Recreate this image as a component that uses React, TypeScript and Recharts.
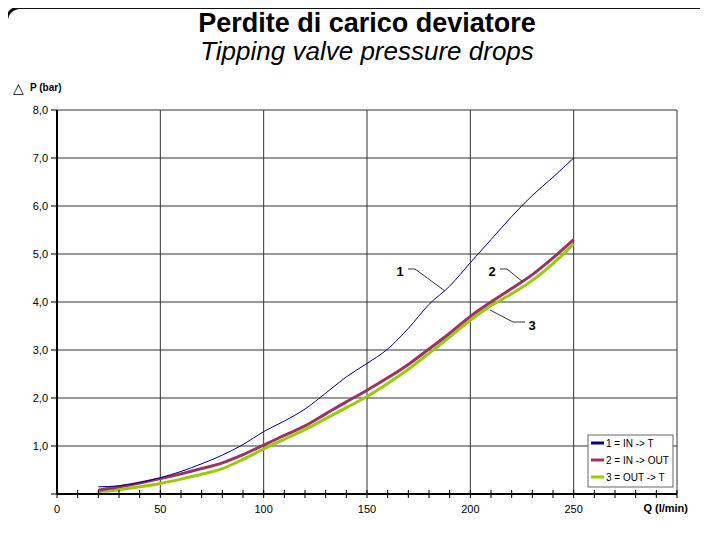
import { CartesianGrid, Line, LineChart, XAxis, YAxis } from 'recharts';

// portata (l/min)
const flowRates = [20, 30, 40, 50, 60, 70, 80, 90, 100, 110, 120, 130, 140, 150, 160, 170, 180, 190, 200, 210, 220, 230, 240, 250];
// 1 = IN -> T
const inToT = [0.15, 0.17, 0.24, 0.34, 0.47, 0.63, 0.81, 1.03, 1.3, 1.52, 1.77, 2.1, 2.44, 2.72, 3.02, 3.45, 3.95, 4.33, 4.82, 5.3, 5.78, 6.22, 6.6, 7.0];
// 2 = IN -> OUT
const inToOut = [0.08, 0.15, 0.23, 0.32, 0.42, 0.53, 0.65, 0.82, 1.02, 1.22, 1.42, 1.67, 1.92, 2.16, 2.42, 2.7, 3.02, 3.35, 3.7, 4.0, 4.28, 4.57, 4.92, 5.3];
// 3 = OUT -> T
const outToT = [0.05, 0.09, 0.15, 0.22, 0.31, 0.41, 0.53, 0.72, 0.94, 1.14, 1.34, 1.57, 1.8, 2.03, 2.3, 2.6, 2.93, 3.27, 3.62, 3.92, 4.17, 4.45, 4.8, 5.21];

const xTicks = [0, 10, 20, 30, 40, 50, 60, 70, 80, 90, 100, 110, 120, 130, 140, 150, 160, 170, 180, 190, 200, 210, 220, 230, 240, 250, 260, 270, 280, 290, 300];
const xGrid = [50, 100, 150, 200, 250, 300];
const yTicks = [0, 1, 2, 3, 4, 5, 6, 7, 8];
const yGrid = [1, 2, 3, 4, 5, 6, 7, 8];

const legendItems = [
  { label: '1 = IN -> T', color: '#000080' },
  { label: '2 = IN -> OUT', color: '#993366' },
  { label: '3 = OUT -> T', color: '#99cc00' },
];

const data = flowRates.map((q, i) => ({ q, s1: inToT[i], s2: inToOut[i], s3: outToT[i] }));

const FONT = '"Liberation Sans", Arial, sans-serif';

function XTick({ x, y, payload }: any) {
  const v = payload.value;
  return (
    <g>
      <line x1={x} x2={x} y1={y - 4} y2={y + 4} stroke="#000" strokeWidth={1} />
      {v % 50 === 0 && v < 300 && (
        <text x={x} y={y + 19} textAnchor="middle" fontSize={11} fill="#000" fontFamily={FONT}>
          {v}
        </text>
      )}
      {v === 300 && (
        <text x={x + 11} y={y + 18} textAnchor="end" fontSize={11} fontWeight="bold" fill="#000" fontFamily={FONT}>
          Q (l/min)
        </text>
      )}
    </g>
  );
}

export default function App() {
  return (
    <div style={{ position: 'relative', width: 708, height: 536, margin: -8, background: '#fff', fontFamily: FONT }}>
      <div style={{ position: 'absolute', left: 0, top: 0 }}>
        <LineChart width={708} height={536} data={data} margin={{ top: 110, right: 31, left: 0, bottom: 12 }}>
          <CartesianGrid
            stroke="#333"
            strokeWidth={1}
            verticalValues={xGrid}
            horizontalValues={yGrid}
          />
          <XAxis
            dataKey="q"
            type="number"
            domain={[0, 300]}
            ticks={xTicks}
            interval={0}
            height={30}
            tickSize={0}
            tickMargin={0}
            tickLine={false}
            axisLine={{ stroke: '#000', strokeWidth: 2 }}
            tick={<XTick />}
          />
          <YAxis
            type="number"
            domain={[0, 8]}
            ticks={yTicks}
            interval={0}
            width={57}
            tickSize={6}
            tickMargin={3}
            tickLine={{ stroke: '#000' }}
            axisLine={{ stroke: '#000', strokeWidth: 2 }}
            tick={{ fontSize: 11, fill: '#000', fontFamily: FONT }}
            tickFormatter={(v: number) => (v === 0 ? '' : v.toFixed(1).replace('.', ','))}
          />
          <Line type="monotone" dataKey="s3" stroke="#99cc00" strokeWidth={3} dot={false} isAnimationActive={false} />
          <Line type="monotone" dataKey="s2" stroke="#993366" strokeWidth={3} dot={false} isAnimationActive={false} />
          <Line type="monotone" dataKey="s1" stroke="#000080" strokeWidth={1} dot={false} isAnimationActive={false} />
        </LineChart>
      </div>

      <svg width={708} height={536} style={{ position: 'absolute', left: 0, top: 0, pointerEvents: 'none' }}>
        {/* cornice */}
        <rect x={5} y={21} width={3} height={520} fill="#111" />
        <rect x={20} y={6} width={700} height={3} fill="#111" />
        <path d="M5 21 A15 15 0 0 1 20 6 L20 9 A12 12 0 0 0 8 21 Z" fill="#111" />

        <text x={367} y={32} textAnchor="middle" fontSize={27} fontWeight="bold" fill="#000" fontFamily={FONT}>
          Perdite di carico deviatore
        </text>
        <text x={367} y={60} textAnchor="middle" fontSize={26} fontStyle="italic" fill="#000" fontFamily={FONT}>
          Tipping valve pressure drops
        </text>

        <text x={13} y={93} fontSize={14} fill="#000" fontFamily='"DejaVu Sans", sans-serif'>△</text>
        <text x={30} y={91} fontSize={10} fontWeight="bold" fill="#000" fontFamily={FONT}>P (bar)</text>

        {/* etichette curve */}
        <text x={400} y={276} textAnchor="middle" fontSize={13} fontWeight="bold" fill="#000" fontFamily={FONT}>1</text>
        <polyline points="408,269 415,269 445,291" fill="none" stroke="#333" strokeWidth={1} />
        <text x={492} y={276} textAnchor="middle" fontSize={13} fontWeight="bold" fill="#000" fontFamily={FONT}>2</text>
        <polyline points="500,269 507,269 523,282" fill="none" stroke="#333" strokeWidth={1} />
        <text x={532} y={330} textAnchor="middle" fontSize={13} fontWeight="bold" fill="#000" fontFamily={FONT}>3</text>
        <polyline points="490,310 513,322 525,322" fill="none" stroke="#333" strokeWidth={1} />

        {/* legenda */}
        <rect x={588} y={435} width={85} height={52} fill="#fff" stroke="#666" strokeWidth={1} />
        {legendItems.map((item, i) => (
          <g key={item.label}>
            <line x1={591} x2={604} y1={443 + i * 17} y2={443 + i * 17} stroke={item.color} strokeWidth={3} />
            <text x={606} y={447 + i * 17} fontSize={10} fill="#000" fontFamily={FONT}>
              {item.label}
            </text>
          </g>
        ))}
      </svg>
    </div>
  );
}
